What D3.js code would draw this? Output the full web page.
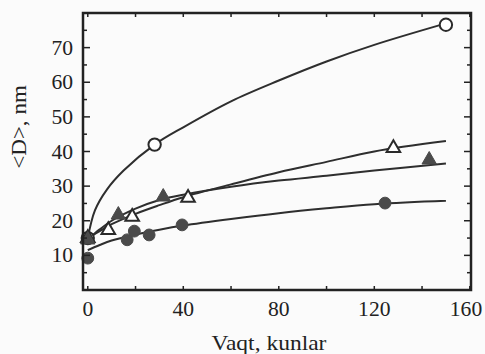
<!DOCTYPE html>
<html><head><meta charset="utf-8">
<script src="https://cdn.jsdelivr.net/npm/d3@7"></script>
<style>html,body{margin:0;padding:0;background:#fbfbfb;}svg{display:block;}</style>
</head><body>
<svg id="c" width="485" height="354"></svg>
<script>
// ---- data ----
const xTicks = [0, 40, 80, 120, 160];
const yTicks = [10, 20, 30, 40, 50, 60, 70];

// fitted curves
const curveOpenCircleT = [0, 3, 8, 15, 28, 40, 60, 80, 100, 120, 150];
const curveOpenCircleD = [15, 23, 29, 34.5, 42, 47, 54.5, 60.5, 66, 70.8, 77];
const curveOpenTriT = [0, 5, 10, 20, 30, 40, 60, 80, 100, 120, 150];
const curveOpenTriD = [15, 17, 19, 22, 24.5, 26.8, 30.5, 34, 37, 40, 43];
const curveFilledTriT = [0, 5, 10, 20, 30, 40, 60, 80, 100, 120, 150];
const curveFilledTriD = [14.5, 17.5, 20, 23.5, 26, 27.5, 29.8, 31.6, 33, 34.5, 36.5];
const curveFilledCircT = [0, 5, 10, 20, 30, 40, 60, 80, 100, 120, 150];
const curveFilledCircD = [11.5, 13, 14.3, 16, 17.4, 18.6, 20.5, 22.2, 23.6, 24.8, 25.8];

// measured points
const openCircleT = [0, 28, 150];
const openCircleD = [15, 42, 76.6];
const openTriT = [0, 8.6, 18.6, 42, 128];
const openTriD = [15, 17.3, 21.1, 26.6, 41];
const filledTriT = [0, 12.8, 31.6, 143];
const filledTriD = [14.5, 21.7, 26.9, 37.6];
const filledCircT = [0, 16.5, 19.5, 25.7, 39.5, 124.5];
const filledCircD = [9.2, 14.5, 17, 15.9, 18.8, 25.1];

// ---- drawing ----
const svg = d3.select("#c");
const L = 83, R = 471, T = 13, B = 290;
const x = d3.scaleLinear().domain([-2, 160.5]).range([L, R]);
const y = d3.scaleLinear().domain([0, 80]).range([B, T]);
const font = "'Liberation Serif', 'DejaVu Serif', serif";
const ink = "#222";

const zip = (a, b) => a.map((v, i) => [v, b[i]]);
const line = d3.line().x(d => x(d[0])).y(d => y(d[1])).curve(d3.curveCatmullRom.alpha(0.5));

const g = svg.append("g");
[[curveOpenCircleT, curveOpenCircleD], [curveOpenTriT, curveOpenTriD],
 [curveFilledTriT, curveFilledTriD], [curveFilledCircT, curveFilledCircD]].forEach(([t, d]) => {
  g.append("path").attr("d", line(zip(t, d))).attr("fill", "none")
   .attr("stroke", "#2e2e2e").attr("stroke-width", 2);
});

function markers(t, d, type, filled, size) {
  g.selectAll(null).data(zip(t, d)).enter().append("path")
    .attr("d", d3.symbol().type(type).size(size))
    .attr("transform", p => `translate(${x(p[0])},${y(p[1])})`)
    .attr("fill", filled ? "#4a4a4a" : "#fff")
    .attr("stroke", filled ? "#4a4a4a" : "#2a2a2a")
    .attr("stroke-width", filled ? 1 : 2);
}
markers(openCircleT, openCircleD, d3.symbolCircle, false, 120);
markers(openTriT, openTriD, d3.symbolTriangle, false, 80);
markers(filledTriT, filledTriD, d3.symbolTriangle, true, 90);
markers(filledCircT, filledCircD, d3.symbolCircle, true, 110);

// frame and ticks
const ax = svg.append("g");
ax.append("rect").attr("x", L).attr("y", T).attr("width", R - L).attr("height", B - T)
  .attr("fill", "none").attr("stroke", ink).attr("stroke-width", 2.5);

const xMinor = d3.range(0, 161, 20);
const yMinor = d3.range(5, 80, 5);
xMinor.forEach(v => {
  const len = 4;
  ax.append("line").attr("x1", x(v)).attr("x2", x(v)).attr("y1", B).attr("y2", B - len).attr("stroke", ink).attr("stroke-width", 1.5);
  ax.append("line").attr("x1", x(v)).attr("x2", x(v)).attr("y1", T).attr("y2", T + len).attr("stroke", ink).attr("stroke-width", 1.5);
});
yMinor.forEach(v => {
  const len = v % 10 === 0 ? 7 : 4;
  ax.append("line").attr("x1", L).attr("x2", L + len).attr("y1", y(v)).attr("y2", y(v)).attr("stroke", ink).attr("stroke-width", 1.5);
  ax.append("line").attr("x1", R).attr("x2", R - len).attr("y1", y(v)).attr("y2", y(v)).attr("stroke", ink).attr("stroke-width", 1.5);
});

const sx = 1.08;
const xLabelPos = d => Math.min(x(d), 466);
ax.selectAll(null).data(xTicks).enter().append("text")
  .attr("transform", d => `translate(${xLabelPos(d)},316) scale(${sx},1)`).attr("text-anchor", "middle")
  .attr("font-family", font).attr("font-size", 20).attr("fill", ink).text(d => d);
ax.selectAll(null).data(yTicks).enter().append("text")
  .attr("transform", d => `translate(73,${y(d) + 7}) scale(${sx},1)`).attr("text-anchor", "end")
  .attr("font-family", font).attr("font-size", 20).attr("fill", ink).text(d => d);

svg.append("text").attr("transform", "translate(269,350) scale(1.12,1)").attr("text-anchor", "middle")
  .attr("font-family", font).attr("font-size", 21).attr("fill", ink).text("Vaqt, kunlar");
svg.append("text").attr("transform", "translate(26,127) rotate(-90) scale(1.1,1)").attr("text-anchor", "middle")
  .attr("font-family", font).attr("font-size", 21).attr("fill", ink).text("<D>, nm");
</script>
</body></html>
